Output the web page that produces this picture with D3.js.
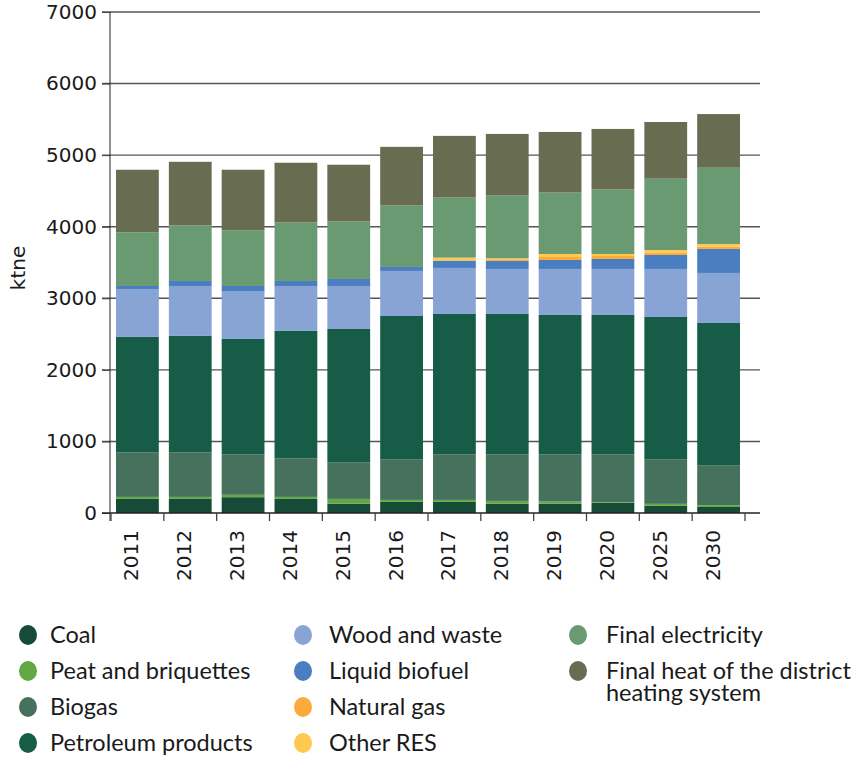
<!DOCTYPE html>
<html>
<head>
<meta charset="utf-8">
<script src="https://cdn.jsdelivr.net/npm/d3@7"></script>
<style>
  body { margin: 0; background: #fff; }
  svg { display: block; }
  .tick-num { font-family: "DejaVu Sans", sans-serif; }
  .leg { font-family: Lato, "Noto Sans", sans-serif; }
</style>
</head>
<body>
<div id="chart"></div>
<script>
var years = ['2011','2012','2013','2014','2015','2016','2017','2018','2019','2020','2025','2030'];
var yTicks = [0,1000,2000,3000,4000,5000,6000,7000];

var coal      = [197,197,221,197,131,155,155,131,131,145,100,84];
var peat      = [28,28,33,28,66,28,28,38,29,8,28,25];
var biogas    = [620,620,563,536,507,563,634,648,657,664,618,553];
var petroleum = [1615,1629,1615,1783,1867,2007,1964,1964,1950,1950,1993,1993];
var wood      = [670,698,670,628,601,629,643,629,643,643,671,699];
var liquid    = [42,70,70,70,98,56,102,112,125,139,195,335];
var natgas    = [0,0,0,0,0,0,5,23,42,42,33,33];
var otherres  = [0,0,0,0,0,0,37,14,42,28,37,37];
var elec      = [749,777,777,818,804,858,839,876,858,900,996,1065];
var heat      = [875,888,847,834,792,820,862,861,847,847,792,750];

var seriesNames = ['Coal','Peat and briquettes','Biogas','Petroleum products','Wood and waste',
  'Liquid biofuel','Natural gas','Other RES','Final electricity','Final heat of the district heating system'];
var seriesVals = [coal,peat,biogas,petroleum,wood,liquid,natgas,otherres,elec,heat];
var colors = ['#164c37','#63a844','#46715c','#165c47','#87a4d4','#4b7ec0','#fbaa3c','#fec94e','#699a72','#686c50'];

var W = 856, H = 757;
var svg = d3.select('#chart').append('svg').attr('width', W).attr('height', H);

// table for the stack
var rows = years.map(function(yr, i) {
  var r = {year: yr};
  seriesNames.forEach(function(n, k) { r[n] = seriesVals[k][i]; });
  return r;
});
var stack = d3.stack().keys(seriesNames)(rows);

var x = d3.scaleBand().domain(years).range([111, 745]).paddingInner(0.19).paddingOuter(0.095);
var y = d3.scaleLinear().domain([0, 7000]).range([513, 12]);

// gridlines
svg.append('g').selectAll('line').data(yTicks.slice(1)).join('line')
  .attr('x1', 102).attr('x2', 760)
  .attr('y1', function(d){ return y(d); }).attr('y2', function(d){ return y(d); })
  .attr('stroke', '#555').attr('stroke-width', 1.4);

// bars
svg.append('g').selectAll('g').data(stack).join('g')
  .attr('fill', function(d, i){ return colors[i]; })
  .selectAll('rect').data(function(d){ return d; }).join('rect')
  .attr('x', function(d){ return x(d.data.year); })
  .attr('width', x.bandwidth())
  .attr('y', function(d){ return y(d[1]); })
  .attr('height', function(d){ return y(d[0]) - y(d[1]); });

// y axis
var yAxis = svg.append('g').attr('transform', 'translate(110,0)')
  .call(d3.axisLeft(y).tickValues(yTicks).tickFormat(d3.format('d')).tickSize(8).tickPadding(5));
yAxis.select('.domain').remove();
yAxis.selectAll('.tick line').attr('stroke', '#444');
yAxis.selectAll('text').attr('class', 'tick-num').attr('font-size', 20).attr('fill', '#1a1a1a');
svg.append('line').attr('x1', 110).attr('x2', 110).attr('y1', y(7000)).attr('y2', 521)
  .attr('stroke', '#222').attr('stroke-width', 1);

// x axis
svg.append('line').attr('x1', 102).attr('x2', 760).attr('y1', y(0)).attr('y2', y(0))
  .attr('stroke', '#222').attr('stroke-width', 1.4);
var bounds = years.map(function(d){ return x(d) - x.step() * x.paddingInner() / 2; });
bounds.push(x(years[years.length - 1]) + x.bandwidth() + x.step() * x.paddingInner() / 2);
svg.append('g').selectAll('line').data(bounds).join('line')
  .attr('x1', function(d){ return d; }).attr('x2', function(d){ return d; })
  .attr('y1', y(0)).attr('y2', 521)
  .attr('stroke', '#444').attr('stroke-width', 1.3);
svg.append('g').selectAll('text').data(years).join('text')
  .attr('class', 'tick-num')
  .attr('transform', function(d){ return 'translate(' + (x(d) + x.bandwidth() / 2 + 1) + ',530) rotate(-90)'; })
  .attr('text-anchor', 'end')
  .attr('font-size', 20).attr('fill', '#1a1a1a')
  .text(function(d){ return d; });

// y label
svg.append('text').attr('class', 'tick-num')
  .attr('transform', 'translate(25,268) rotate(-90)')
  .attr('text-anchor', 'middle').attr('font-size', 20).attr('fill', '#1a1a1a')
  .text('ktne');

// legend
var legCols = [[28, 50], [303, 329], [578, 606]];
var legend = svg.append('g');
seriesNames.forEach(function(n, i) {
  var col = Math.floor(i / 4), row = i % 4;
  var cy = 635 + row * 36;
  var g = legend.append('g');
  g.append('ellipse').attr('cx', legCols[col][0]).attr('cy', cy).attr('rx', 9).attr('ry', 10)
    .attr('fill', colors[i]);
  var lines = n === 'Final heat of the district heating system'
    ? ['Final heat of the district', 'heating system'] : [n];
  var t = g.append('text').attr('class', 'leg')
    .attr('x', legCols[col][1]).attr('y', cy)
    .attr('font-size', 23.5).attr('fill', '#1a1a1a');
  lines.forEach(function(s, j) {
    t.append('tspan').attr('x', legCols[col][1]).attr('dy', j === 0 ? '0.35em' : 22).text(s);
  });
});
</script>
</body>
</html>
